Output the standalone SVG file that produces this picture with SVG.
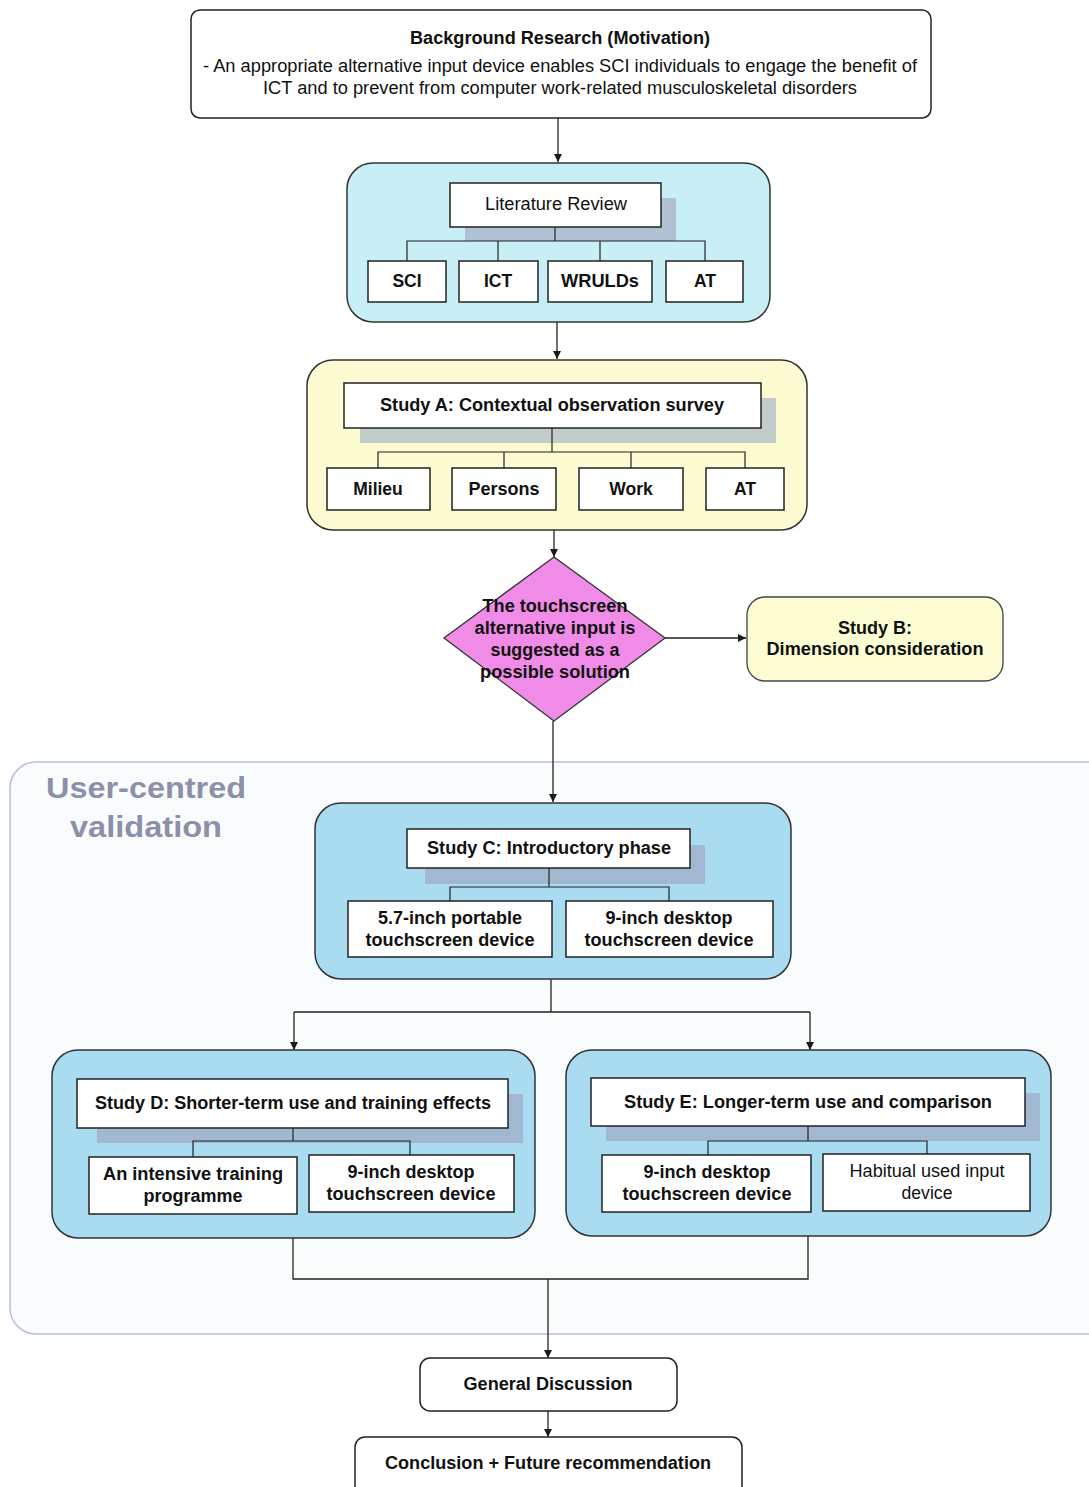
<svg xmlns="http://www.w3.org/2000/svg" width="1089" height="1487" viewBox="0 0 1089 1487">
  <defs>
    <marker id="arrow" viewBox="0 0 10 10" refX="10" refY="5" markerWidth="8" markerHeight="8" markerUnits="userSpaceOnUse" orient="auto">
      <path d="M0,0 L10,5 L0,10 z" fill="#1a1a1a"/>
    </marker>
    <style>
      .t { font-family: "Liberation Sans", Arial, sans-serif; fill: #111; text-anchor: middle; font-size: 17.5px; }
      .b { font-weight: bold; }
      .box { fill: #ffffff; stroke: #222; stroke-width: 1.5; }
      .shadow { fill: #9a9ab4; opacity: 0.55; }
      .cyan { fill: #c8eff6; stroke: #333; stroke-width: 1.5; }
      .blue { fill: #a9dbf1; stroke: #333; stroke-width: 1.5; }
      .yellow { fill: #fcfbd2; stroke: #333; stroke-width: 1.5; }
      .edge { fill: none; stroke: #222; stroke-width: 1.3; }
      .tree { fill: none; stroke: #222; stroke-width: 1.2; }
    </style>
  </defs>
  <rect width="1089" height="1487" fill="#ffffff"/>

  <!-- validation phase region -->
  <g id="user-centred-validation">
    <rect x="10" y="762" width="1110" height="572" rx="26" fill="#f8fcfd" stroke="#b9bfd2" stroke-width="1.5"/>
    <text class="t b" x="146" y="798" style="font-size:30px;fill:#8b91a9" textLength="200" lengthAdjust="spacingAndGlyphs">User-centred</text>
    <text class="t b" x="146" y="837" style="font-size:30px;fill:#8b91a9" textLength="152" lengthAdjust="spacingAndGlyphs">validation</text>
  </g>

  <!-- connectors -->
  <g id="connectors">
    <line class="edge" x1="558" y1="118" x2="558" y2="162" marker-end="url(#arrow)"/>
    <line class="edge" x1="557" y1="322" x2="557" y2="359" marker-end="url(#arrow)"/>
    <line class="edge" x1="554" y1="530" x2="554" y2="557" marker-end="url(#arrow)"/>
    <line class="edge" x1="665" y1="638" x2="746" y2="638" marker-end="url(#arrow)"/>
    <line class="edge" x1="553" y1="721" x2="553" y2="802" marker-end="url(#arrow)"/>
    <polyline class="edge" points="551,979 551,1012"/>
    <polyline class="edge" points="294,1012 810,1012"/>
    <line class="edge" x1="294" y1="1012" x2="294" y2="1050" marker-end="url(#arrow)"/>
    <line class="edge" x1="810" y1="1012" x2="810" y2="1050" marker-end="url(#arrow)"/>
    <polyline class="edge" points="293,1238 293,1279 808,1279 808,1236"/>
    <line class="edge" x1="548" y1="1279" x2="548" y2="1358" marker-end="url(#arrow)"/>
    <line class="edge" x1="548" y1="1411" x2="548" y2="1437" marker-end="url(#arrow)"/>
  </g>

  <!-- background research -->
  <g id="background">
    <rect x="191" y="10" width="740" height="108" rx="9" class="box"/>
    <text class="t b" x="560" y="44" textLength="300" lengthAdjust="spacingAndGlyphs">Background Research (Motivation)</text>
    <text class="t" x="560" y="72" textLength="714" lengthAdjust="spacingAndGlyphs">- An appropriate alternative input device enables SCI individuals to engage the benefit of</text>
    <text class="t" x="560" y="94" textLength="594" lengthAdjust="spacingAndGlyphs">ICT and to prevent from computer work-related musculoskeletal disorders</text>
  </g>

  <!-- literature review -->
  <g id="literature-review">
    <rect x="347" y="163" width="423" height="159" rx="26" class="cyan"/>
    <rect x="465" y="198" width="211" height="43" class="shadow"/>
    <polyline class="tree" points="555,227 555,241"/>
    <polyline class="tree" points="407,261 407,241 705,241 705,261"/>
    <line class="tree" x1="498" y1="241" x2="498" y2="261"/>
    <line class="tree" x1="600" y1="241" x2="600" y2="261"/>
    <rect x="450" y="183" width="211" height="44" class="box"/>
    <text class="t" x="556" y="210" textLength="142" lengthAdjust="spacingAndGlyphs">Literature Review</text>
    <rect x="368" y="261" width="78" height="41" class="box"/>
    <text class="t b" x="407" y="287">SCI</text>
    <rect x="459" y="261" width="79" height="41" class="box"/>
    <text class="t b" x="498" y="287">ICT</text>
    <rect x="548" y="261" width="104" height="41" class="box"/>
    <text class="t b" x="600" y="287" textLength="78" lengthAdjust="spacingAndGlyphs">WRULDs</text>
    <rect x="666" y="261" width="77" height="41" class="box"/>
    <text class="t b" x="705" y="287">AT</text>
  </g>

  <!-- study A -->
  <g id="study-a">
    <rect x="307" y="360" width="500" height="170" rx="26" class="yellow"/>
    <rect x="360" y="398" width="416" height="45" class="shadow" style="fill:#8fa6c4"/>
    <polyline class="tree" points="552,428 552,452"/>
    <polyline class="tree" points="378,468 378,452 745,452 745,468"/>
    <line class="tree" x1="504" y1="452" x2="504" y2="468"/>
    <line class="tree" x1="631" y1="452" x2="631" y2="468"/>
    <rect x="344" y="383" width="417" height="45" class="box"/>
    <text class="t b" x="552" y="411" textLength="344" lengthAdjust="spacingAndGlyphs">Study A: Contextual observation survey</text>
    <rect x="327" y="468" width="103" height="42" class="box"/>
    <text class="t b" x="378" y="495">Milieu</text>
    <rect x="452" y="468" width="104" height="42" class="box"/>
    <text class="t b" x="504" y="495" textLength="71" lengthAdjust="spacingAndGlyphs">Persons</text>
    <rect x="579" y="468" width="104" height="42" class="box"/>
    <text class="t b" x="631" y="495">Work</text>
    <rect x="706" y="468" width="78" height="42" class="box"/>
    <text class="t b" x="745" y="495">AT</text>
  </g>

  <!-- decision -->
  <g id="decision">
    <polygon points="554,557 665,638 554,721 444,638" fill="#f08ce7" stroke="#333" stroke-width="1.3"/>
    <text class="t b" x="555" y="612" textLength="145" lengthAdjust="spacingAndGlyphs">The touchscreen</text>
    <text class="t b" x="555" y="634" textLength="161" lengthAdjust="spacingAndGlyphs">alternative input is</text>
    <text class="t b" x="555" y="656" textLength="129" lengthAdjust="spacingAndGlyphs">suggested as a</text>
    <text class="t b" x="555" y="678" textLength="150" lengthAdjust="spacingAndGlyphs">possible solution</text>
  </g>

  <!-- study B -->
  <g id="study-b">
    <rect x="747" y="597" width="256" height="84" rx="18" fill="#fdfdd3" stroke="#444" stroke-width="1.3"/>
    <text class="t b" x="875" y="634" textLength="74" lengthAdjust="spacingAndGlyphs">Study B:</text>
    <text class="t b" x="875" y="655" textLength="217" lengthAdjust="spacingAndGlyphs">Dimension consideration</text>
  </g>

  <!-- study C -->
  <g id="study-c">
    <rect x="315" y="803" width="476" height="176" rx="26" class="blue"/>
    <rect x="425" y="845" width="280" height="39" class="shadow"/>
    <polyline class="tree" points="549,868 549,887"/>
    <polyline class="tree" points="450,901 450,887 669,887 669,901"/>
    <rect x="407" y="829" width="283" height="39" class="box"/>
    <text class="t b" x="549" y="854" textLength="244" lengthAdjust="spacingAndGlyphs">Study C: Introductory phase</text>
    <rect x="348" y="901" width="204" height="56" class="box"/>
    <text class="t b" x="450" y="924" textLength="144" lengthAdjust="spacingAndGlyphs">5.7-inch portable</text>
    <text class="t b" x="450" y="946" textLength="169" lengthAdjust="spacingAndGlyphs">touchscreen device</text>
    <rect x="566" y="901" width="207" height="56" class="box"/>
    <text class="t b" x="669" y="924" textLength="127" lengthAdjust="spacingAndGlyphs">9-inch desktop</text>
    <text class="t b" x="669" y="946" textLength="169" lengthAdjust="spacingAndGlyphs">touchscreen device</text>
  </g>

  <!-- study D -->
  <g id="study-d">
    <rect x="52" y="1050" width="483" height="188" rx="26" class="blue"/>
    <rect x="97" y="1094" width="426" height="49" class="shadow"/>
    <polyline class="tree" points="293,1128 293,1141"/>
    <polyline class="tree" points="193,1157 193,1141 410,1141 410,1155"/>
    <rect x="77" y="1079" width="431" height="49" class="box"/>
    <text class="t b" x="293" y="1109" textLength="396" lengthAdjust="spacingAndGlyphs">Study D: Shorter-term use and training effects</text>
    <rect x="89" y="1157" width="208" height="57" class="box"/>
    <text class="t b" x="193" y="1180" textLength="180" lengthAdjust="spacingAndGlyphs">An intensive training</text>
    <text class="t b" x="193" y="1202" textLength="99" lengthAdjust="spacingAndGlyphs">programme</text>
    <rect x="309" y="1155" width="205" height="57" class="box"/>
    <text class="t b" x="411" y="1178" textLength="127" lengthAdjust="spacingAndGlyphs">9-inch desktop</text>
    <text class="t b" x="411" y="1200" textLength="169" lengthAdjust="spacingAndGlyphs">touchscreen device</text>
  </g>

  <!-- study E -->
  <g id="study-e">
    <rect x="566" y="1050" width="485" height="186" rx="26" class="blue"/>
    <rect x="606" y="1093" width="434" height="48" class="shadow"/>
    <polyline class="tree" points="808,1126 808,1141"/>
    <polyline class="tree" points="708,1155 708,1141 927,1141 927,1154"/>
    <rect x="591" y="1078" width="434" height="48" class="box"/>
    <text class="t b" x="808" y="1108" textLength="368" lengthAdjust="spacingAndGlyphs">Study E: Longer-term use and comparison</text>
    <rect x="602" y="1155" width="209" height="57" class="box"/>
    <text class="t b" x="707" y="1178" textLength="127" lengthAdjust="spacingAndGlyphs">9-inch desktop</text>
    <text class="t b" x="707" y="1200" textLength="169" lengthAdjust="spacingAndGlyphs">touchscreen device</text>
    <rect x="823" y="1154" width="207" height="57" class="box"/>
    <text class="t" x="927" y="1177" textLength="155" lengthAdjust="spacingAndGlyphs">Habitual used input</text>
    <text class="t" x="927" y="1199" textLength="51" lengthAdjust="spacingAndGlyphs">device</text>
  </g>

  <!-- general discussion -->
  <g id="general-discussion">
    <rect x="420" y="1358" width="257" height="53" rx="10" class="box"/>
    <text class="t b" x="548" y="1390" textLength="169" lengthAdjust="spacingAndGlyphs">General Discussion</text>
  </g>

  <!-- conclusion -->
  <g id="conclusion">
    <rect x="355" y="1437" width="387" height="60" rx="10" class="box"/>
    <text class="t b" x="548" y="1469" textLength="326" lengthAdjust="spacingAndGlyphs">Conclusion + Future recommendation</text>
  </g>
</svg>
